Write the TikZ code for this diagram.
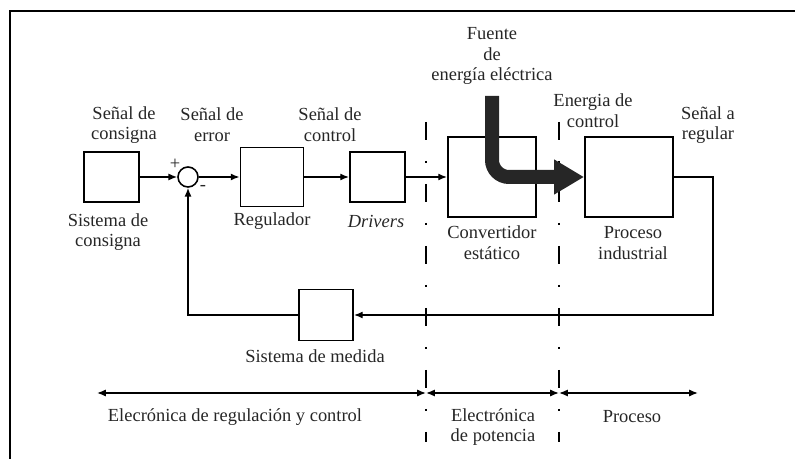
\documentclass[tikz,border=0pt]{standalone}
\usepackage{fontspec}
\setmainfont{Liberation Serif}
\usetikzlibrary{arrows.meta}

\begin{document}
\begin{tikzpicture}[x=0.02cm, y=-0.02cm,
    every node/.style={font=\fontsize{10.5}{11.8}\selectfont, text=black!85},
    block/.style={draw, line width=1.1pt, inner sep=0pt},
    note/.style={align=center, inner sep=0pt},
    signal/.style={line width=0.8pt, -{Latex[length=5pt,width=4pt]}},
    zone/.style={line width=0.8pt, {Latex[length=5pt,width=4pt]}-{Latex[length=5pt,width=4pt]}},
    divider/.style={line width=1.1pt, dash pattern=on 0.36cm off 0.42cm on 0.04cm off 0.42cm},
    power/.style={line width=0.28cm, draw=black!85, rounded corners=0.34cm,
      -{Triangle[length=0.6cm,width=0.66cm]}}]
    \useasboundingbox (0,0) rectangle (795,459);
    \draw[line width=1.3pt] (10,459) -- (10,11) -- (795,11);

    % blocks
    \node[block, minimum width=1.1cm, minimum height=1cm] (cons) at (111.5,177) {};
    \node[draw, circle, line width=0.9pt, minimum size=0.4cm, inner sep=0pt] (sum) at (188,177) {};
    \node[block, minimum width=1.26cm, minimum height=1.18cm] (reg) at (272,177) {};
    \node[block, minimum width=1.1cm, minimum height=1cm] (drv) at (377.5,177) {};
    \node[block, minimum width=1.76cm, minimum height=1.6cm] (conv) at (492,177) {};
    \node[block, minimum width=1.76cm, minimum height=1.6cm] (proc) at (629,177) {};
    \node[block, minimum width=1.08cm, minimum height=1.02cm] (med) at (326,315) {};

    % signal path
    \draw[signal] (cons) -- (sum);
    \draw[signal] (sum) -- (reg);
    \draw[signal] (reg) -- (drv);
    \draw[signal] (drv) -- (conv);
    \coordinate (turn) at (713,315);
    \draw[signal] (proc.east) -| (turn) -- (med);
    \draw[signal] (med) -| (sum);
    \node (plus) at (175,164) {+};
    \node (minus) at (203,188) {-};

    % zones
    \coordinate (d1top) at (426,122); \coordinate (d1bot) at (426,442);
    \coordinate (d2top) at (559,122); \coordinate (d2bot) at (559,442);
    \draw[divider] (d1top) -- (d1bot);
    \draw[divider] (d2top) -- (d2bot);
    \coordinate (z0) at (97,393); \coordinate (z1) at (426,393);
    \coordinate (z2) at (559,393); \coordinate (z3) at (698,393);
    \draw[zone] (z0) -- (z1);
    \draw[zone] (z1) -- (z2);
    \draw[zone] (z2) -- (z3);

    % power flow
    \coordinate (src) at (492,96);
    \draw[power] (src) |- (proc.west);

    % labels
    \node[note] (lcons) at (124,125) {Señal de\\consigna};
    \node[note] (lerr) at (212,125) {Señal de\\error};
    \node[note] (lctl) at (330,125) {Señal de\\control};
    \node[note] (lsys) at (108,232) {Sistema de\\consigna};
    \node[note] (lreg) at (272,221) {Regulador};
    \node[note] (ldrv) at (376,221) {\textit{Drivers}};
    \node[note] (lconv) at (492,243) {Convertidor\\estático};
    \node[note] (lproc) at (633,243) {Proceso\\industrial};
    \node[note] (lmed) at (315,356) {Sistema de medida};
    \node[note] (lsrc) at (492,56) {Fuente\\de\\energía eléctrica};
    \node[note] (len) at (593,111) {Energia de\\control};
    \node[note] (lout) at (708,125) {Señal a\\regular};
    \node[note] (zreg) at (235,417) {Elecrónica de regulación y control};
    \node[note] (zpot) at (493,427) {Electrónica\\de potencia};
    \node[note] (zproc) at (632,417) {Proceso};
  \end{tikzpicture}
\end{document}
